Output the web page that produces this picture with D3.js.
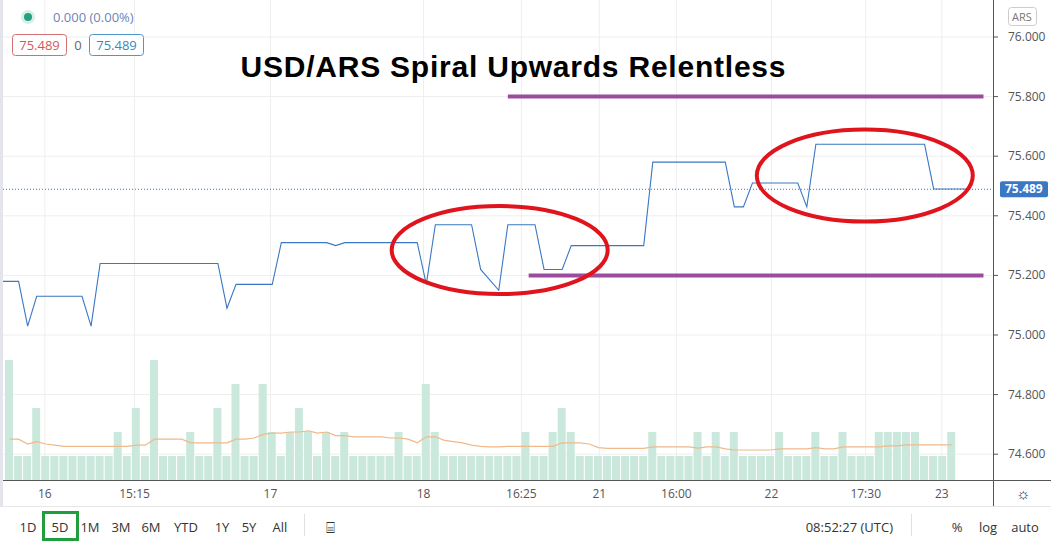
<!DOCTYPE html>
<html><head><meta charset="utf-8">
<script src="https://cdn.jsdelivr.net/npm/d3@7"></script>
<style>body{margin:0;background:#fff}svg{display:block;font-family:"Open Sans",Arial,sans-serif}</style>
</head><body><svg id="c" width="1051" height="542"></svg>
<script>
// price ticks and time ticks
var priceTicks = [76.0, 75.8, 75.6, 75.4, 75.2, 75.0, 74.8, 74.6];
var timeLabels = ['16', '15:15', '17', '18', '16:25', '21', '16:00', '22', '17:30', '23'];
var timeIdx = [4.4, 14.3, 29.3, 46.2, 57.0, 65.6, 74.1, 84.6, 95.0, 103.4];

// price line: bar index, price
var priceIdx = [-1, 1, 2, 3, 8, 9, 10, 23, 24, 25, 29, 30, 35, 36, 37, 45, 46, 47, 51, 52, 54, 55, 58, 59, 61, 62, 70, 71, 79, 80, 81, 82, 84, 87, 88, 89, 101, 102, 106];
var priceVal = [75.18, 75.18, 75.03, 75.13, 75.13, 75.03, 75.24, 75.24, 75.09, 75.17, 75.17, 75.31, 75.31, 75.30, 75.31, 75.31, 75.17, 75.37, 75.37, 75.22, 75.15, 75.37, 75.37, 75.22, 75.22, 75.30, 75.30, 75.58, 75.58, 75.43, 75.43, 75.51, 75.51, 75.51, 75.43, 75.64, 75.64, 75.49, 75.49];

// volume per bar (105 bars)
var volume = [5,1,1,3,1,1,1,1,1,1,1,1,2,1,3,1,5,1,1,1,2,1,1,3,1,4,1,1,4,2,1,2,3,2,1,2,1,2,1,1,
  1,1,1,2,1,1,4,2,1,1,1,1,1,1,1,1,1,2,1,1,2,3,2,1,1,1,1,1,1,1,1,2,1,1,1,1,2,1,2,1,
  2,1,1,1,1,2,1,1,1,2,1,1,2,1,1,1,2,2,2,2,2,1,1,1,2];
// volume moving average per bar
var volMA = [1.7,1.7,1.5,1.6,1.5,1.45,1.4,1.4,1.4,1.4,1.4,1.4,1.4,1.4,1.45,1.45,1.7,1.7,1.7,1.7,1.55,1.55,1.55,1.55,1.55,1.7,1.7,1.75,1.9,1.95,1.95,2.0,2.0,2.05,1.95,2.0,1.85,1.85,1.8,1.8,
  1.8,1.8,1.75,1.75,1.7,1.55,1.8,1.8,1.65,1.6,1.55,1.45,1.4,1.38,1.38,1.4,1.4,1.4,1.4,1.4,1.4,1.55,1.55,1.55,1.5,1.35,1.32,1.32,1.32,1.32,1.32,1.38,1.38,1.38,1.38,1.38,1.33,1.38,1.38,1.3,
  1.25,1.25,1.25,1.25,1.25,1.3,1.3,1.3,1.3,1.35,1.3,1.3,1.38,1.38,1.38,1.38,1.38,1.42,1.42,1.46,1.46,1.46,1.46,1.46,1.46];

// annotations
var hLines = [{from: 55.5, to: 108, price: 75.80}, {from: 57.8, to: 108, price: 75.20}];
var ellipses = [{idx: 54.6, price: 75.285, rx: 108, ry: 44}, {idx: 94.9, price: 75.535, rx: 108, ry: 46}];
var lastPrice = 75.489;

var svg = d3.select('#c');
var plotRight = 993, plotBottom = 480;
var x = d3.scaleLinear().domain([0, 105]).range([5, 5 + 105 * 9.06]);
var y = d3.scaleLinear().domain([75.0, 76.0]).range([335, 37]);
var yv = d3.scaleLinear().domain([0, 5]).range([plotBottom, 360]);

// grid
svg.append('g').selectAll('line').data(priceTicks).join('line')
  .attr('x1', 0).attr('x2', plotRight).attr('y1', d => y(d)).attr('y2', d => y(d))
  .attr('stroke', '#eeeeee');
svg.append('g').selectAll('line').data(timeIdx).join('line')
  .attr('x1', d => x(d)).attr('x2', d => x(d)).attr('y1', 0).attr('y2', plotBottom)
  .attr('stroke', '#eeeeee');

// volume bars
svg.append('g').selectAll('rect').data(volume).join('rect')
  .attr('x', (d, i) => x(i)).attr('width', 8)
  .attr('y', d => yv(d)).attr('height', d => plotBottom - yv(d))
  .attr('fill', '#cbe8dc');
svg.append('path').datum(volMA)
  .attr('d', d3.line().x((d, i) => x(i + 0.5)).y(d => yv(d)))
  .attr('fill', 'none').attr('stroke', '#f0b98a').attr('stroke-width', 1.2);

// price line
svg.append('path').datum(priceIdx.map((d, i) => [d, priceVal[i]]))
  .attr('d', d3.line().x(d => x(d[0] + 0.5)).y(d => y(d[1])))
  .attr('fill', 'none').attr('stroke', '#3a78c3').attr('stroke-width', 1.1);

// last price dotted line
svg.append('line').attr('x1', 0).attr('x2', plotRight).attr('y1', y(lastPrice)).attr('y2', y(lastPrice))
  .attr('stroke', '#3a78c3').attr('stroke-dasharray', '1,2');

// annotations
svg.append('g').selectAll('line').data(hLines).join('line')
  .attr('x1', d => x(d.from)).attr('x2', d => Math.min(x(d.to), plotRight - 3))
  .attr('y1', d => y(d.price)).attr('y2', d => y(d.price))
  .attr('stroke', '#9c4c9f').attr('stroke-width', 4);
svg.append('g').selectAll('ellipse').data(ellipses).join('ellipse')
  .attr('cx', d => x(d.idx)).attr('cy', d => y(d.price)).attr('rx', d => d.rx).attr('ry', d => d.ry)
  .attr('fill', 'none').attr('stroke', '#e0141c').attr('stroke-width', 4);

// axes frame
svg.append('line').attr('x1', plotRight + 0.5).attr('x2', plotRight + 0.5).attr('y1', 0).attr('y2', 506).attr('stroke', '#555');
svg.append('line').attr('x1', 0).attr('x2', 1051).attr('y1', plotBottom + 0.5).attr('y2', plotBottom + 0.5).attr('stroke', '#555');
svg.append('line').attr('x1', 0).attr('x2', 1051).attr('y1', 506.5).attr('y2', 506.5).attr('stroke', '#e6e6e6');

// right axis
var ra = svg.append('g');
ra.selectAll('line').data(priceTicks).join('line')
  .attr('x1', plotRight).attr('x2', plotRight + 5).attr('y1', d => y(d)).attr('y2', d => y(d)).attr('stroke', '#555');
ra.selectAll('text').data(priceTicks).join('text')
  .attr('x', 1008).attr('y', d => y(d) + 4).attr('font-size', 12).attr('fill', '#555')
  .text(d => d3.format('.3f')(d));
svg.append('rect').attr('x', 1000).attr('y', y(lastPrice) - 8).attr('width', 48).attr('height', 16).attr('rx', 2).attr('fill', '#3a78c3');
svg.append('text').attr('x', 1005).attr('y', y(lastPrice) + 4).attr('font-size', 12).attr('font-weight', 'bold').attr('fill', '#fff').text('75.489');
svg.append('rect').attr('x', 1008.5).attr('y', 7.5).attr('width', 28).attr('height', 18).attr('rx', 3).attr('fill', '#fff').attr('stroke', '#ccc');
svg.append('text').attr('x', 1022).attr('y', 21).attr('text-anchor', 'middle').attr('font-size', 11).attr('fill', '#777').text('ARS');

// time axis labels
svg.append('g').selectAll('text').data(timeLabels).join('text')
  .attr('x', (d, i) => x(timeIdx[i])).attr('y', 498).attr('text-anchor', 'middle')
  .attr('font-size', 12).attr('fill', '#555').text(d => d);

// legend top-left
svg.append('circle').attr('cx', 28).attr('cy', 17).attr('r', 7).attr('fill', '#d6efe8');
svg.append('circle').attr('cx', 28).attr('cy', 17).attr('r', 4).attr('fill', '#26a07f');
svg.append('text').attr('x', 53).attr('y', 22).attr('font-size', 13).attr('fill', '#6b86b8').text('0.000 (0.00%)');
svg.append('rect').attr('x', 12.5).attr('y', 34.5).attr('width', 54).attr('height', 21).attr('rx', 3).attr('fill', '#fff').attr('stroke', '#d07070');
svg.append('text').attr('x', 39.5).attr('y', 50).attr('text-anchor', 'middle').attr('font-size', 13).attr('fill', '#d05a5a').text('75.489');
svg.append('text').attr('x', 78).attr('y', 50).attr('text-anchor', 'middle').attr('font-size', 13).attr('fill', '#666').text('0');
svg.append('rect').attr('x', 89.5).attr('y', 34.5).attr('width', 54).attr('height', 21).attr('rx', 3).attr('fill', '#fff').attr('stroke', '#4a98cc');
svg.append('text').attr('x', 116.5).attr('y', 50).attr('text-anchor', 'middle').attr('font-size', 13).attr('fill', '#3a88c0').text('75.489');

// title
svg.append('text').attr('x', 513).attr('y', 77).attr('text-anchor', 'middle')
  .attr('font-family', 'Liberation Sans, Arial, sans-serif').attr('font-size', 30).attr('font-weight', 'bold')
  .attr('textLength', 545).attr('fill', '#000').text('USD/ARS Spiral Upwards Relentless');

// bottom toolbar
var ranges = ['1D', '5D', '1M', '3M', '6M', 'YTD', '1Y', '5Y', 'All'];
var rangeX = [28, 60, 90, 121, 151, 186, 222, 249, 280];
svg.append('g').selectAll('text').data(ranges).join('text')
  .attr('x', (d, i) => rangeX[i]).attr('y', 532).attr('text-anchor', 'middle')
  .attr('font-size', 13).attr('fill', '#333').text(d => d);
svg.append('rect').attr('x', 43.5).attr('y', 512.5).attr('width', 34).attr('height', 27).attr('fill', 'none').attr('stroke', '#1f9e3b').attr('stroke-width', 3);
svg.append('line').attr('x1', 304.5).attr('x2', 304.5).attr('y1', 514).attr('y2', 536).attr('stroke', '#e0e0e0');
svg.append('text').attr('x', 330).attr('y', 533).attr('text-anchor', 'middle').attr('font-size', 15).attr('fill', '#333').text('⌸');
svg.append('text').attr('x', 893).attr('y', 532).attr('text-anchor', 'end').attr('font-size', 13).attr('fill', '#333').text('08:52:27 (UTC)');
svg.append('line').attr('x1', 911.5).attr('x2', 911.5).attr('y1', 514).attr('y2', 536).attr('stroke', '#e0e0e0');
svg.append('text').attr('x', 957).attr('y', 532).attr('text-anchor', 'middle').attr('font-size', 13).attr('fill', '#333').text('%');
svg.append('text').attr('x', 988).attr('y', 532).attr('text-anchor', 'middle').attr('font-size', 13).attr('fill', '#333').text('log');
svg.append('text').attr('x', 1025).attr('y', 532).attr('text-anchor', 'middle').attr('font-size', 13).attr('fill', '#333').text('auto');
svg.append('text').attr('x', 1023).attr('y', 499).attr('text-anchor', 'middle').attr('font-size', 16).attr('fill', '#333').text('☼');
svg.append('rect').attr('x', 0).attr('y', 0).attr('width', 3).attr('height', 506).attr('fill', '#e4e4ec');
</script></body></html>
